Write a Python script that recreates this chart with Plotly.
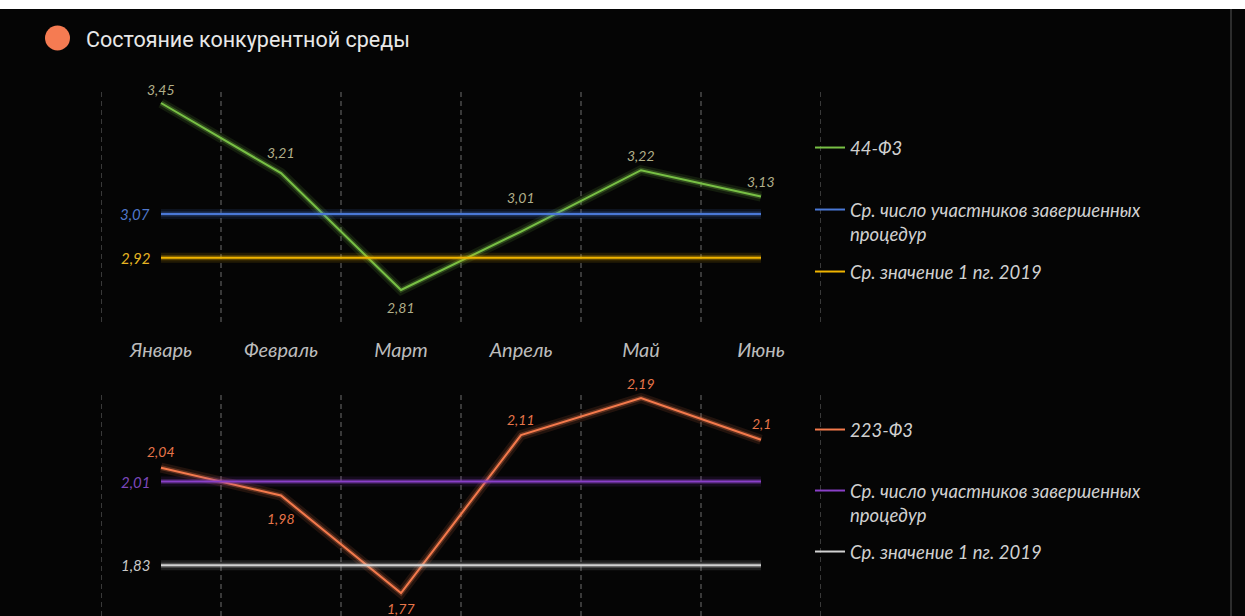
import plotly.graph_objects as go

# ---------------- data ----------------
months = ["Январь", "Февраль", "Март", "Апрель", "Май", "Июнь"]
fz44 = [3.45, 3.21, 2.81, 3.01, 3.22, 3.13]
fz44_avg_participants = 3.07
fz44_avg_2019 = 2.92
fz223 = [2.04, 1.98, 1.77, 2.11, 2.19, 2.10]
fz223_avg_participants = 2.01
fz223_avg_2019 = 1.83

name_44 = "44-Ф3"
name_223 = "223-Ф3"
name_part = "Ср. число участников завершенных<br>процедур"
name_2019 = "Ср. значение 1 пг. 2019"
title_text = "Состояние конкурентной среды"

# ---------------- styling ----------------
W, H = 1245, 616
FONT = "Lato, 'Open Sans', sans-serif"
C_GREEN = "#78c045"
C_BLUE = "#4a78d6"
C_YELLOW = "#f0b400"
C_ORANGE = "#f47a4c"
C_PURPLE = "#8a40c8"
C_GRAY = "#d2d2d2"


def fx(px):
    return px / W


def fy(py):
    return 1 - py / H


def fmt(v):
    return ("%g" % v).replace(".", ",")


fig = go.Figure()


def add_line(x, y, color, name, xa, ya, legend):
    # glow underneath
    for w, op in ((10, 0.12), (5, 0.28)):
        fig.add_trace(go.Scatter(x=x, y=y, mode="lines", xaxis=xa, yaxis=ya,
                                 line=dict(color=color, width=w), opacity=op,
                                 showlegend=False, hoverinfo="skip"))
    fig.add_trace(go.Scatter(x=x, y=y, mode="lines", xaxis=xa, yaxis=ya,
                             line=dict(color=color, width=2), name=name,
                             legend=legend))


# top chart
add_line(months, fz44, C_GREEN, name_44, "x", "y", "legend")
add_line(months, [fz44_avg_participants] * len(months), C_BLUE, name_part, "x", "y", "legend2")
add_line(months, [fz44_avg_2019] * len(months), C_YELLOW, name_2019, "x", "y", "legend3")
# bottom chart
add_line(months, fz223, C_ORANGE, name_223, "x2", "y2", "legend4")
add_line(months, [fz223_avg_participants] * len(months), C_PURPLE, name_part, "x2", "y2", "legend5")
add_line(months, [fz223_avg_2019] * len(months), C_GRAY, name_2019, "x2", "y2", "legend6")

# data labels (pixel offsets from point)
off44 = [13, 21, -17, 34, 15, 15]
off223 = [16, -23, -15, 16, 15, 16]
ann = []
for m, v, o in zip(months, fz44, off44):
    ann.append(dict(x=m, y=v, xref="x", yref="y", text=fmt(v), showarrow=False,
                    yshift=o, font=dict(family=FONT, size=14, color="#b2b08a", style="italic")))
for m, v, o in zip(months, fz223, off223):
    ann.append(dict(x=m, y=v, xref="x2", yref="y2", text=fmt(v), showarrow=False,
                    yshift=o, font=dict(family=FONT, size=14, color="#e8764a", style="italic")))
for v, c, xr, yr in ((fz44_avg_participants, "#5078cc", "x", "y"),
                     (fz44_avg_2019, "#e6b422", "x", "y"),
                     (fz223_avg_participants, "#7c48bc", "x2", "y2"),
                     (fz223_avg_2019, "#c8c8c8", "x2", "y2")):
    ann.append(dict(x=months[0], y=v, xref=xr, yref=yr, text=fmt(v), showarrow=False,
                    xanchor="right", xshift=-9,
                    font=dict(family=FONT, size=15, color=c, style="italic")))

# dashed category boundaries
shapes = []
for xr, yr in (("x", "y domain"), ("x2", "y2 domain")):
    for i in range(len(months) + 1):
        shapes.append(dict(type="line", xref=xr, yref=yr, x0=i - 0.5, x1=i - 0.5, y0=0, y1=1,
                           line=dict(color="#6e6e6e", width=1, dash="5px,4px"), layer="below"))
# title bullet
shapes.append(dict(type="circle", xref="paper", yref="paper",
                   x0=fx(45), x1=fx(70), y0=fy(50.5), y1=fy(25.5),
                   fillcolor="#f57b52", line=dict(width=0)))
# screenshot frame artifacts
shapes.append(dict(type="rect", xref="paper", yref="paper", x0=0, x1=1, y0=fy(9), y1=1,
                   fillcolor="white", line=dict(width=0)))
shapes.append(dict(type="line", xref="paper", yref="paper", x0=fx(1231), x1=fx(1231),
                   y0=0, y1=fy(9), line=dict(color="#3a3a3a", width=1.5)))

legfont = dict(family=FONT, size=18.5, color="#d0d0d0", style="italic")


def leg(top_px):
    return dict(x=fx(810), xanchor="left", y=fy(top_px), yanchor="top",
                bgcolor="rgba(0,0,0,0)", font=legfont, itemwidth=30, valign="top",
                tracegroupgap=0, borderwidth=0)


axis_common = dict(type="category", range=[-0.5, len(months) - 0.5], showgrid=False,
                   zeroline=False, showline=False, fixedrange=True)

fig.update_layout(
    width=W, height=H,
    margin=dict(l=0, r=0, t=0, b=0),
    paper_bgcolor="#050505", plot_bgcolor="rgba(0,0,0,0)",
    showlegend=True,
    hovermode=False,
    title=dict(text=title_text, x=fx(86), xanchor="left", y=fy(39), yanchor="middle",
               xref="paper", yref="paper",
               font=dict(family="Roboto, sans-serif", size=21.5, color="#e8e8e8")),
    xaxis=dict(domain=[fx(101), fx(821)], anchor="y", ticks="outside", ticklen=10,
               tickcolor="rgba(0,0,0,0)",
               tickfont=dict(family=FONT, size=20, color="#bcbcbc", style="italic"),
               **axis_common),
    yaxis=dict(domain=[fy(322), fy(90)], range=[2.7005, 3.4945], visible=False),
    xaxis2=dict(domain=[fx(101), fx(821)], anchor="y2", showticklabels=False, **axis_common),
    yaxis2=dict(domain=[0, fy(393)], range=[1.7205, 2.2008], visible=False),
    legend=leg(129), legend2=leg(191), legend3=leg(253),
    legend4=leg(411), legend5=leg(472), legend6=leg(533),
    annotations=ann,
    shapes=shapes,
)

fig.write_html("out.html", config={"displayModeBar": False},
               post_script="document.body.style.margin='0';")
